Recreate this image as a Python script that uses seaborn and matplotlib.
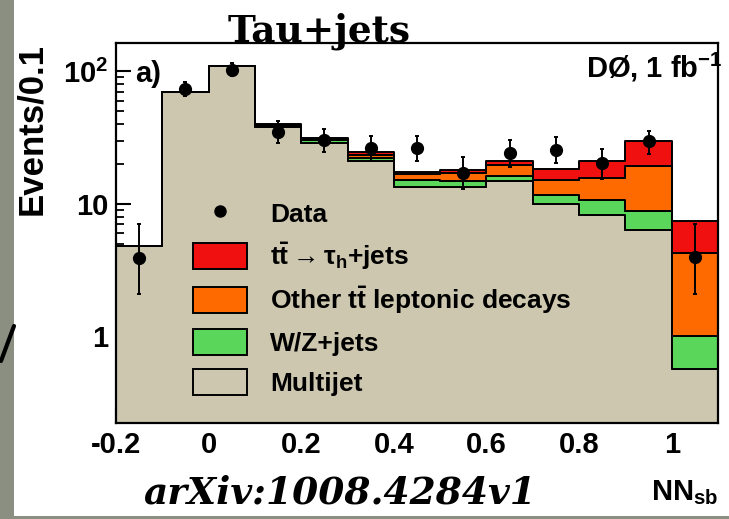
import matplotlib
matplotlib.use("Agg")
import matplotlib.pyplot as plt
from matplotlib.lines import Line2D
from matplotlib.patches import Patch, Rectangle
from matplotlib.ticker import FixedLocator, LogLocator, NullFormatter
import pandas as pd
import seaborn as sns

# NN_sb histogram, tau+jets channel
BIN_EDGES = [-0.2, -0.1, 0.0, 0.1, 0.2, 0.3, 0.4, 0.5, 0.6, 0.7, 0.8, 0.9, 1.0, 1.1]
NN_CENTERS = [-0.15, -0.05, 0.05, 0.15, 0.25, 0.35, 0.45, 0.55, 0.65, 0.75, 0.85, 0.95, 1.05]

MULTIJET = [4.8, 69.5, 109.5, 37.8, 28.8, 21.1, 13.5, 13.5, 14.9, 10.0, 8.3, 6.35, 0.57]
WZ_JETS = [0.01, 0.1, 0.4, 0.6, 1.4, 1.0, 1.7, 1.4, 1.4, 1.7, 2.4, 2.5, 0.43]
OTHER_TT = [0.01, 0.1, 0.3, 0.8, 0.6, 1.1, 1.6, 2.3, 3.3, 3.5, 5.1, 10.55, 3.24]
TT_TAU = [0.01, 0.1, 0.2, 1.1, 0.6, 1.4, 0.7, 0.9, 1.5, 3.1, 5.3, 10.5, 3.19]

DATA_Y = [3.9, 73.6, 103.0, 34.8, 30.5, 26.4, 26.4, 17.1, 24.4, 25.6, 20.3, 29.6, 4.0]
DATA_ERR_LO = [1.8, 8.9, 11.4, 6.0, 5.9, 5.5, 5.5, 4.2, 5.3, 5.3, 4.9, 5.7, 1.9]
DATA_ERR_HI = [3.2, 9.6, 12.7, 7.1, 6.4, 6.3, 6.3, 5.4, 6.1, 6.3, 5.6, 6.2, 3.1]

PROCESSES = ["tau", "other", "wz", "multijet"]  # seaborn stacks the last level at the bottom
COLORS = {"tau": "#f01010", "other": "#ff6a00", "wz": "#5ad65a", "multijet": "#cdc7af"}
LEGEND_LABELS = [
    "Data",
    r"$\mathbf{t\bar{t}}\rightarrow\tau_{\mathbf{h}}$+jets",
    r"Other $\mathbf{t\bar{t}}$ leptonic decays",
    "W/Z+jets",
    "Multijet",
]
X_TICKS = [-0.2, 0.0, 0.2, 0.4, 0.6, 0.8, 1.0]
X_TICK_LABELS = ["-0.2", "0", "0.2", "0.4", "0.6", "0.8", "1"]
Y_TICKS = [1, 10, 100]
Y_TICK_LABELS = ["1", "10", r"$\mathbf{10^{2}}$"]

sns.set_style("ticks")
SANS = ["Liberation Sans", "DejaVu Sans"]
plt.rcParams["font.family"] = SANS
plt.rcParams["font.weight"] = "bold"
plt.rcParams["text.color"] = "black"
plt.rcParams["axes.labelcolor"] = "black"
plt.rcParams["xtick.color"] = "black"
plt.rcParams["ytick.color"] = "black"
plt.rcParams["mathtext.fontset"] = "custom"
plt.rcParams["mathtext.rm"] = "Liberation Sans:bold"
plt.rcParams["mathtext.bf"] = "Liberation Sans:bold"
plt.rcParams["mathtext.it"] = "Liberation Sans:bold"


def build_frame():
    rows = []
    for proc, vals in zip(PROCESSES, [TT_TAU, OTHER_TT, WZ_JETS, MULTIJET]):
        for x, w in zip(NN_CENTERS, vals):
            rows.append({"nn": x, "events": w, "process": proc})
    return pd.DataFrame(rows)


def main():
    df = build_frame()
    fig = plt.figure(figsize=(7.29, 5.19), dpi=100)
    fig.patch.set_facecolor("white")

    # slide background bits around the pasted plot
    fig.add_artist(Rectangle((0, 0), 14 / 729, 1, transform=fig.transFigure,
                             facecolor="#8b8f82", edgecolor="none", zorder=0))
    fig.add_artist(Rectangle((0, 0), 1, 3 / 519, transform=fig.transFigure,
                             facecolor="#8b8f82", edgecolor="none", zorder=0))
    fig.add_artist(Line2D([1 / 729, 14 / 729], [1 - 361 / 519, 1 - 326 / 519],
                          transform=fig.transFigure, color="black", lw=3))

    ax = fig.add_axes([116 / 729, 1 - 423 / 519, 602 / 729, 380 / 519])
    ax.set_yscale("log")

    sns.histplot(data=df, x="nn", weights="events", hue="process", hue_order=PROCESSES,
                 palette=COLORS, multiple="stack", bins=BIN_EDGES, element="step",
                 alpha=1, edgecolor="black", linewidth=1.4, legend=False, ax=ax)

    ax.errorbar(NN_CENTERS, DATA_Y, yerr=[DATA_ERR_LO, DATA_ERR_HI], fmt="o",
                color="black", ms=8.5, elinewidth=1.4, capsize=1.5, capthick=1.4, zorder=5)

    ax.set_xlim(-0.2, 1.1)
    ax.set_ylim(0.221, 164)
    ax.xaxis.set_major_locator(FixedLocator(X_TICKS))
    ax.set_xticklabels(X_TICK_LABELS)
    ax.xaxis.set_minor_locator(FixedLocator([-0.2 + 0.05 * i for i in range(27)]))
    ax.set_yticks(Y_TICKS)
    ax.set_yticklabels(Y_TICK_LABELS)
    ax.yaxis.set_minor_locator(LogLocator(base=10, subs=range(2, 10)))
    ax.yaxis.set_minor_formatter(NullFormatter())
    ax.tick_params(axis="both", which="major", direction="in", length=10.5, width=1.5,
                   labelsize=21, labelcolor="black", color="black", top=False, right=False)
    ax.tick_params(axis="both", which="minor", direction="in", length=5.5, width=1.3,
                   color="black", top=False, right=False)
    ax.tick_params(axis="x", which="major", pad=5.5)
    ax.tick_params(axis="y", which="major", pad=5.5)
    for spine in ax.spines.values():
        spine.set_linewidth(1.6)
        spine.set_color("black")
        spine.set_visible(True)

    ax.set_xlabel("")
    ax.set_ylabel("Events/0.1", loc="top", weight="bold", fontsize=25, color="black")
    ax.yaxis.set_label_coords(-0.113, 1.0)

    ax.text(0.032, 0.918, "a)", transform=ax.transAxes, fontsize=21, va="center",
            ha="left", color="black")
    ax.text(1.008, 0.908, r"DØ, 1 fb$^{\mathbf{-1}}$", transform=ax.transAxes,
            fontsize=21, va="baseline", ha="right", color="black")

    handles = [Line2D([], [], marker="o", ls="", color="black", ms=8)]
    for proc in PROCESSES:
        handles.append(Patch(facecolor=COLORS[proc], edgecolor="black", linewidth=1.4))
    leg = ax.legend(handles, LEGEND_LABELS, loc="upper left", bbox_to_anchor=(0.128, 0.587),
                    frameon=False, borderpad=0, borderaxespad=0, handlelength=2.05,
                    handleheight=1.14, handletextpad=0.87, labelspacing=0.49,
                    prop={"family": SANS, "weight": "bold", "size": 19})
    for txt in leg.get_texts():
        txt.set_color("black")

    fig.text(319 / 729, 1 - 41 / 519, "Tau+jets", ha="center", va="baseline",
             family="DejaVu Serif", weight="bold", fontsize=27, color="black", zorder=10)
    fig.text(340 / 729, 1 - 503 / 519, "arXiv:1008.4284v1", ha="center", va="baseline",
             family="DejaVu Serif", style="italic", weight="bold", fontsize=27, color="black")
    fig.text(718 / 729, 1 - 500 / 519, r"NN$_{\mathbf{sb}}$", ha="right", va="baseline",
             fontsize=21, color="black")

    fig.savefig("out.png", dpi=100)
    plt.close(fig)


if __name__ == "__main__":
    main()
